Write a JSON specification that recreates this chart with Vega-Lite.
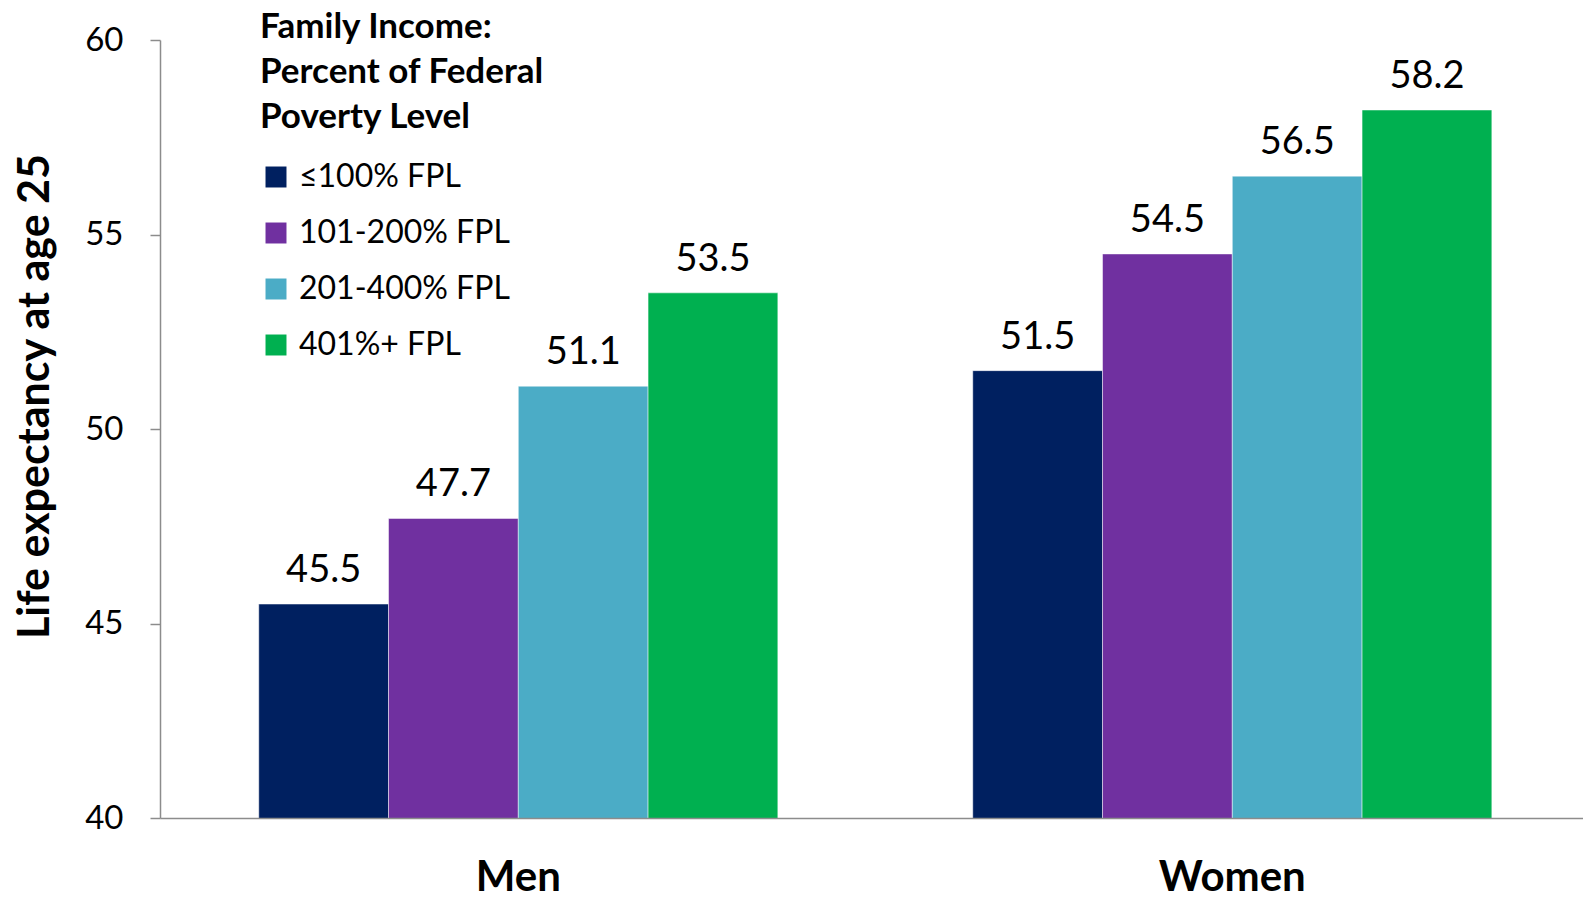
{
  "$schema": "https://vega.github.io/schema/vega-lite/v6.json",
  "autosize": {"type": "none"},
  "padding": {"left": 160, "top": 40, "right": 0, "bottom": 82},
  "width": 1423,
  "height": 778,
  "background": "white",
  "config": {
    "font": "Lato",
    "view": {"stroke": null}
  },
  "data": {
    "values": [
      {"sex": "Men", "income": "≤100% FPL", "value": 45.5},
      {"sex": "Men", "income": "101-200% FPL", "value": 47.7},
      {"sex": "Men", "income": "201-400% FPL", "value": 51.1},
      {"sex": "Men", "income": "401%+ FPL", "value": 53.5},
      {"sex": "Women", "income": "≤100% FPL", "value": 51.5},
      {"sex": "Women", "income": "101-200% FPL", "value": 54.5},
      {"sex": "Women", "income": "201-400% FPL", "value": 56.5},
      {"sex": "Women", "income": "401%+ FPL", "value": 58.2}
    ]
  },
  "encoding": {
    "x": {
      "field": "sex",
      "type": "nominal",
      "sort": ["Men", "Women"],
      "scale": {"paddingInner": 0.273, "paddingOuter": 0.133, "align": 0.52},
      "axis": {
        "title": null,
        "labelAngle": 0,
        "labelFont": "Lato",
        "labelFontSize": 42,
        "labelFontWeight": "bold",
        "labelColor": "black",
        "labelBaseline": "alphabetic",
        "labelPadding": 72,
        "ticks": false,
        "tickSize": 0,
        "domainColor": "#8c8c8c",
        "domainWidth": 1.5,
        "grid": false,
        "zindex": 1
      }
    },
    "xOffset": {
      "field": "income",
      "type": "nominal",
      "sort": ["≤100% FPL", "101-200% FPL", "201-400% FPL", "401%+ FPL"],
      "scale": {"paddingInner": 0, "paddingOuter": 0}
    },
    "y": {
      "field": "value",
      "type": "quantitative",
      "scale": {"domain": [40, 60], "zero": false, "nice": false},
      "axis": {
        "title": "Life expectancy at age 25",
        "titleFont": "Lato",
        "titleFontSize": 43,
        "titleFontWeight": "bold",
        "titleColor": "black",
        "titleAngle": -90,
        "titleBaseline": "alphabetic",
        "titleAlign": "center",
        "titleX": -112,
        "titleY": 356,
        "titleLimit": 0,
        "values": [40, 45, 50, 55, 60],
        "labelFont": "Lato",
        "labelFontSize": 33,
        "labelColor": "black",
        "labelPadding": 27,
        "tickSize": 10,
        "tickColor": "#8c8c8c",
        "tickWidth": 1.5,
        "domainColor": "#8c8c8c",
        "domainWidth": 1.5,
        "grid": false
      }
    }
  },
  "layer": [
    {
      "mark": {"type": "bar", "clip": true, "stroke": "#ffffff", "strokeWidth": 0.8, "strokeOpacity": 0.6},
      "encoding": {
        "color": {
          "field": "income",
          "type": "nominal",
          "sort": ["≤100% FPL", "101-200% FPL", "201-400% FPL", "401%+ FPL"],
          "scale": {
            "domain": ["≤100% FPL", "101-200% FPL", "201-400% FPL", "401%+ FPL"],
            "range": ["#002060", "#7030A0", "#4BACC6", "#00B050"]
          },
          "legend": {
            "orient": "none",
            "legendX": 100,
            "legendY": -30,
            "padding": 0,
            "title": ["Family Income:", "Percent of Federal", "Poverty Level"],
            "titleFont": "Lato",
            "titleFontSize": 35,
            "titleFontWeight": "bold",
            "titleColor": "black",
            "titleLineHeight": 45,
            "titleBaseline": "top",
            "titlePadding": 26,
            "titleLimit": 0,
            "symbolType": "square",
            "symbolSize": 440,
            "symbolStrokeWidth": 0,
            "symbolOffset": 0,
            "labelFont": "Lato",
            "labelFontSize": 32,
            "labelColor": "black",
            "labelOffset": 7,
            "labelLimit": 0,
            "rowPadding": 24
          }
        }
      }
    },
    {
      "mark": {"type": "text", "baseline": "alphabetic", "dy": -22, "font": "Lato", "fontSize": 38, "color": "black"},
      "encoding": {
        "text": {"field": "value", "type": "quantitative", "format": ".1f"}
      }
    }
  ]
}
